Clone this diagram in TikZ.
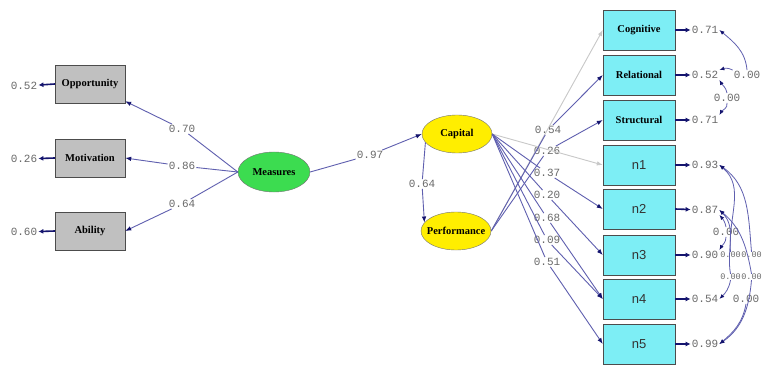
\documentclass[tikz,border=0pt]{standalone}
\usepackage{fontspec}
\setmainfont{Liberation Serif}
\newfontfamily\numfont{Liberation Mono}
\newfontfamily\boxfont{Liberation Sans}
\usetikzlibrary{arrows.meta,shapes.geometric}

\definecolor{pathblue}{RGB}{95,95,175}
\definecolor{tipblue}{RGB}{20,20,110}
\definecolor{boxgray}{RGB}{192,192,192}
\definecolor{boxcyan}{RGB}{125,238,245}
\definecolor{latgreen}{RGB}{60,220,80}
\definecolor{latyellow}{RGB}{255,238,0}
\definecolor{numgray}{RGB}{105,105,105}
\definecolor{fixgray}{RGB}{200,200,200}

\begin{document}
\begin{tikzpicture}[
    x=1pt, y=-1pt,
    obsleft/.style={draw=black!70, fill=boxgray, minimum width=70pt, minimum height=38pt,
      inner sep=0pt, font=\bfseries\fontsize{10.5}{11}\selectfont},
    obsright/.style={draw=black!70, fill=boxcyan, minimum width=72pt, minimum height=40pt,
      inner sep=0pt, font=\bfseries\fontsize{10.5}{11}\selectfont},
    obsn/.style={obsright, font=\boxfont\fontsize{13}{13}\selectfont, text=black!80},
    latent/.style={ellipse, draw=black!55, minimum width=72pt, minimum height=40pt,
      inner sep=0pt, font=\bfseries\fontsize{10.5}{11}\selectfont},
    num/.style={font=\numfont\fontsize{11}{11}\selectfont, text=numgray, inner sep=1pt},
    smallnum/.style={font=\numfont\fontsize{8.5}{9}\selectfont, text=numgray, inner sep=0pt},
    effect/.style={draw=pathblue, line width=0.9pt, -{Latex[length=6pt,width=4.5pt,color=tipblue]}},
    fixed/.style={draw=fixgray, line width=0.9pt, -{Latex[length=6pt,width=4.5pt,color=fixgray]}},
    errarr/.style={draw=tipblue, line width=1.6pt, -{Latex[length=5pt,width=5pt]}},
    cov/.style={draw=pathblue, line width=0.8pt, -{Latex[length=5pt,width=4pt,color=tipblue]}},
]

% Canvas
\fill[white] (0,0) rectangle (762,366);
\useasboundingbox (0,0) rectangle (762,366);

% Left indicators
\node[obsleft] (Opportunity) at (90,84) {Opportunity};
\node[obsleft] (Motivation) at (90,158) {Motivation};
\node[obsleft] (Ability) at (90,231) {Ability};

\node[num] (eOpp) at (24,86) {0.52};
\node[num] (eMot) at (24,159) {0.26};
\node[num] (eAbi) at (24,232) {0.60};
\draw[errarr] (Opportunity.west) -- (eOpp);
\draw[errarr] (Motivation.west) -- (eMot);
\draw[errarr] (Ability.west) -- (eAbi);

% Latent variables
\node[latent, fill=latgreen] (Measures) at (274,172) {Measures};
\node[latent, fill=latyellow, minimum width=70pt, minimum height=38pt] (Capital) at (457,134) {Capital};
\node[latent, fill=latyellow, minimum width=70pt, minimum height=38pt, inner xsep=-6pt] (Performance) at (456,231) {Performance};

% Loadings of Measures
\node[num] (l070) at (182,129) {0.70};
\node[num] (l086) at (182,166) {0.86};
\node[num] (l064a) at (182,204) {0.64};
\draw[effect] (Measures.west) -- (l070) -- (Opportunity);
\draw[effect] (Measures.west) -- (l086) -- (Motivation.east);
\draw[effect] (Measures.west) -- (l064a) -- (Ability.east);

% Structural paths
\node[num] (l097) at (370,155) {0.97};
\draw[effect] (Measures.east) -- (l097) -- (Capital.west);
\node[num] (l064b) at (422,184) {0.64};
\draw[effect] (Capital.195) -- (l064b) -- (Performance.165);

% Right indicators
\node[obsright] (Cognitive) at (639,30) {Cognitive};
\node[obsright] (Relational) at (639,75) {Relational};
\node[obsright] (Structural) at (639,120) {Structural};
\foreach \i/\y in {1/165,2/209,3/255,4/299,5/344}
  \node[obsn] (n\i) at (639,\y) {n\i};

% Error variances, right
\node[num] (eCog) at (705,30) {0.71};
\node[num] (eRel) at (705,75) {0.52};
\node[num] (eStr) at (705,120) {0.71};
\node[num] (eN1) at (705,165) {0.93};
\node[num] (eN2) at (705,210) {0.87};
\node[num] (eN3) at (705,255) {0.90};
\node[num] (eN4) at (705,299) {0.54};
\node[num] (eN5) at (705,344) {0.99};
\draw[errarr] (Cognitive.east) -- (eCog);
\draw[errarr] (Relational.east) -- (eRel);
\draw[errarr] (Structural.east) -- (eStr);
\foreach \i in {1,...,5}
  \draw[errarr] (n\i.east) -- (eN\i);

% Loadings of Capital and Performance
\node[num] (l054) at (548,130) {0.54};
\node[num] (l026) at (547,151) {0.26};
\node[num] (l037) at (547,173) {0.37};
\node[num] (l020) at (547,195) {0.20};
\node[num] (l068) at (547,218) {0.68};
\node[num] (l009) at (547,240) {0.09};
\node[num] (l051) at (547,262) {0.51};

\draw[fixed] (Performance.east) -- (Cognitive.west);
\draw[fixed] (Capital.east) -- (n1.west);
\draw[effect] (Performance.east) -- (l054) -- (Relational.west);
\draw[effect] (Performance.east) -- (l026) -- (Structural.west);
\draw[effect] (Capital.east) -- (l037) -- (n2.west);
\draw[effect] (Capital.east) -- (l020) -- (n3.west);
\draw[effect] (Capital.east) -- (l068) -- (n4.west);
\draw[effect] (Capital.east) -- (l009) -- (n4.west);
\draw[effect] (Capital.east) -- (l051) -- (n5.west);

% Error covariances
\node[num] (c1) at (747,75) {0.00};
\node[num] (c2) at (727,98) {0.00};
\node[num] (c3) at (726,232) {0.00};
\node[smallnum] (c4) at (730.5,255) {0.00};
\node[smallnum] (c5) at (751.5,255) {0.00};
\node[smallnum] (c6) at (730.5,277) {0.00};
\node[smallnum] (c7) at (751.5,277) {0.00};
\node[num] (c8) at (746,299) {0.00};

\draw[cov] (c1.north) to[out=95,in=-40] (eCog.east);
\draw[cov] (c1.north west) to[out=150,in=20] (eRel.north east);
\draw[cov] (c2.north) to[out=100,in=-60] (eRel.south east);
\draw[cov] (c2.south) to[out=-80,in=60] (eStr.north east);
\draw[cov] (c3.north) to[out=100,in=-50] (eN2.south east);
\draw[cov] (c3.south) to[out=-90,in=60] (eN3.north east);
\draw[cov] (c4.north) to[out=95,in=-40] (eN1.east);
\draw[cov] (c5.north) to[out=95,in=-35] (eN1.east);
\draw[cov] (c6.north) to[out=100,in=-45] (eN2.east);
\draw[cov] (c7.north) to[out=100,in=-40] (eN2.east);
\draw[cov] (c6.south) to[out=-100,in=45] (eN4.east);
\draw[cov] (c7.south) to[out=-95,in=35] (eN5.east);
\draw[cov] (c8.south) to[out=-100,in=40] (eN5.east);

\end{tikzpicture}
\end{document}
